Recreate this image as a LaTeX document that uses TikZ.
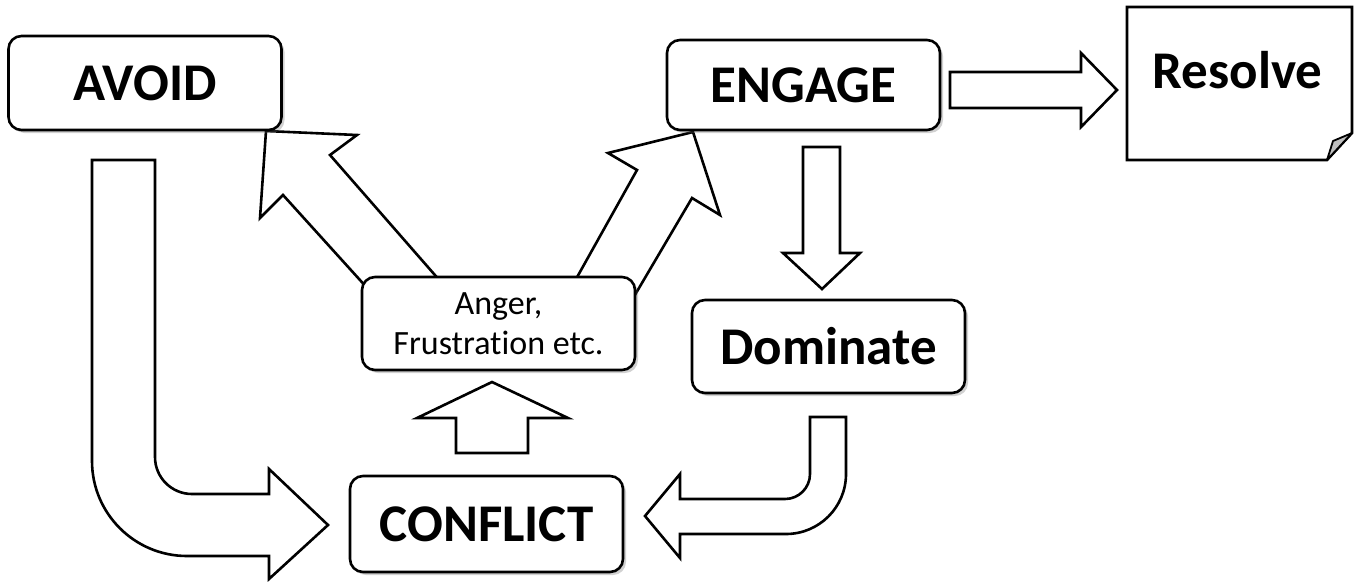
\documentclass[tikz,border=0pt]{standalone}
\usepackage{fontspec}
\setmainfont{Carlito}[Ligatures={NoCommon}]
\usetikzlibrary{shadows}
\begin{document}
\begin{tikzpicture}[x=1pt,y=-1pt,
  boxstyle/.style={draw, line width=2.6pt, rounded corners=13pt, fill=white,
    minimum width=273pt, minimum height=93pt, inner sep=0pt,
    font=\bfseries\fontsize{53}{60}\selectfont,
    drop shadow={shadow xshift=3pt, shadow yshift=-3pt, opacity=0.3, fill=black!60}},
  blockarrow/.style={draw, line width=2.6pt, fill=white, line join=miter, miter limit=10}]
\useasboundingbox (0,0) rectangle (1356,581);

% block arrows (drawn first, boxes cover their tails)
% Anger -> AVOID
\draw[blockarrow] (369,290) -- (283,195) -- (260,218) -- (266,131) -- (357,135) -- (330,155) -- (448,290) -- cycle;
% Anger -> ENGAGE
\draw[blockarrow] (571,288) -- (637,170) -- (608,153) -- (693,132) -- (720,215) -- (692,198) -- (629,305) -- cycle;
% CONFLICT -> Anger
\draw[blockarrow] (456,453) -- (456,418) -- (417,418) -- (492,382) -- (568,418) -- (528,418) -- (528,453) -- cycle;
% ENGAGE -> Dominate
\draw[blockarrow] (803,147) -- (840,147) -- (840,253) -- (860,253) -- (822,289) -- (783,253) -- (803,253) -- cycle;
% ENGAGE -> Resolve
\draw[blockarrow] (950,72) -- (1081,72) -- (1081,53) -- (1117,90) -- (1081,127) -- (1081,108) -- (950,108) -- cycle;
% AVOID -> CONFLICT (bent)
\draw[blockarrow] (92,160) -- (155,160) -- (155,457) arc[start angle=180, end angle=90, radius=37]
  -- (269,494) -- (269,469) -- (328,525) -- (269,579) -- (269,556) -- (187,556)
  arc[start angle=90, end angle=180, radius=95] -- cycle;
% Dominate -> CONFLICT (bent)
\draw[blockarrow] (810,417) -- (846,417) -- (846,474) arc[start angle=0, end angle=90, radius=60]
  -- (680,534) -- (680,558) -- (645,516) -- (680,474) -- (680,499) -- (785,499)
  arc[start angle=90, end angle=0, radius=25] -- cycle;

% boxes
\node[boxstyle, minimum height=94pt] (avoid) at (145,83) {AVOID};
\node[boxstyle, minimum height=90pt] (engage) at (803.5,85) {ENGAGE};
\node[boxstyle] (dominate) at (828.5,346.5) {Dominate};
\node[boxstyle, font=\fontsize{34}{40}\selectfont, align=center] (anger) at (498.5,323.5) {Anger,\\Frustration etc.};
\node[boxstyle, minimum height=96pt] (conflict) at (486.5,524) {CONFLICT};

% Resolve document shape
\draw[line width=2.6pt, fill=white, line join=miter] (1127,7) -- (1352,7) -- (1352,133) -- (1327,160) -- (1127,160) -- cycle;
\draw[line width=1.8pt, fill=black!25, line join=round] (1327,160) -- (1333,141) -- (1352,133) -- cycle;
\node[anchor=base, inner sep=0pt, font=\bfseries\fontsize{53}{60}\selectfont] (resolve) at (1237.5,88) {Resolve};
\end{tikzpicture}
\end{document}
